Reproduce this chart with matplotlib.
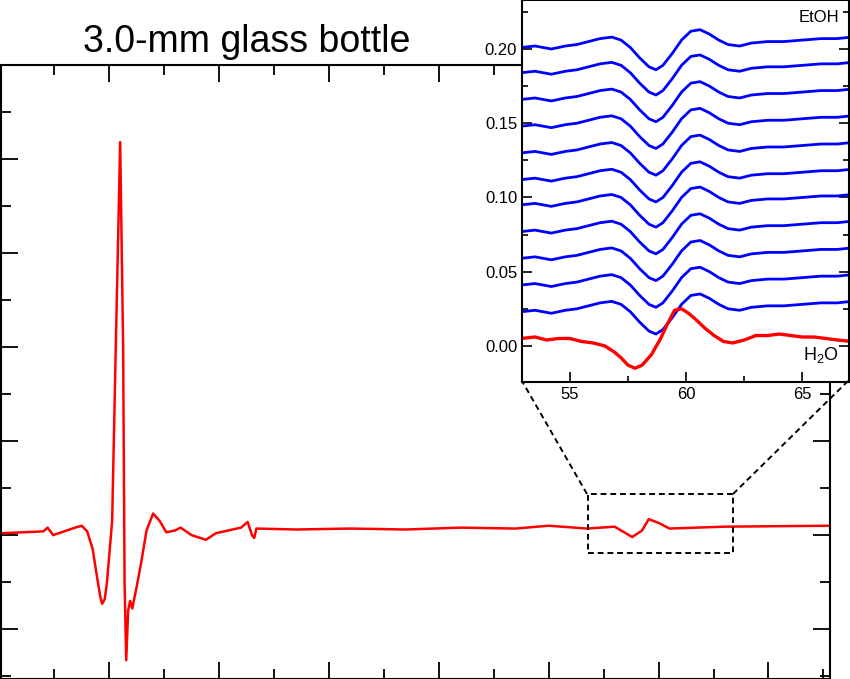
import matplotlib
matplotlib.use("Agg")
import matplotlib.pyplot as plt
from matplotlib.lines import Line2D
from matplotlib.ticker import MultipleLocator, FormatStrFormatter

plt.rcParams['font.family'] = ['Liberation Sans', 'DejaVu Sans']
plt.rcParams['mathtext.fontset'] = 'custom'
plt.rcParams['mathtext.rm'] = 'Liberation Sans'

# Main trace (x in field units, y in arbitrary units)
main_x = [0.18, 4.0, 4.4, 4.9, 6.9, 7.5, 8.0, 8.5, 8.9, 9.2, 9.36, 9.6, 9.8, 10.27, 10.6,
          11.0, 11.27, 11.4, 11.55, 11.73, 11.9, 12.1, 12.5, 12.9, 13.4, 14.0, 14.6, 15.2,
          16.0, 16.5, 17.5, 18.8, 19.7, 22.0, 22.6, 23.0, 23.2, 23.4, 27.0, 32.0, 37.0,
          42.0, 47.0, 50.0, 53.5, 56.0, 57.6, 58.5, 59.1, 60.0, 61.0, 66.0, 75.6]
main_y = [0.02, 0.04, 0.08, 0.0, 0.08, 0.10, 0.04, -0.15, -0.45, -0.66, -0.73, -0.68, -0.50,
          0.15, 2.0, 4.18, 2.0, -0.5, -1.33, -0.80, -0.70, -0.78, -0.55, -0.30, 0.05, 0.23,
          0.15, 0.03, 0.05, 0.08, 0.0, -0.05, 0.02, 0.08, 0.14, 0.0, -0.03, 0.07, 0.06,
          0.07, 0.06, 0.08, 0.07, 0.10, 0.07, 0.09, -0.02, 0.05, 0.17, 0.13, 0.07, 0.09, 0.10]

# Inset: blue profile (relative to trace offset) and trace offsets
blue_x = [52.9, 53.5, 54.2, 54.8, 55.3, 55.8, 56.3, 56.8, 57.2, 57.6, 58.0, 58.4, 58.7, 59.0,
          59.4, 59.8, 60.2, 60.6, 61.0, 61.4, 61.8, 62.3, 62.8, 63.5, 64.2, 65.0, 65.8,
          66.5, 67.1]
blue_dy = [0.0, 0.001, -0.001, 0.001, 0.002, 0.004, 0.006, 0.007, 0.005, 0.000, -0.007,
           -0.013, -0.015, -0.012, -0.004, 0.005, 0.011, 0.012, 0.009, 0.005, 0.002, 0.001,
           0.003, 0.004, 0.004, 0.005, 0.006, 0.006, 0.007]
blue_offsets = [0.023, 0.041, 0.059, 0.077, 0.095, 0.112, 0.130, 0.148, 0.166, 0.184, 0.201]

red_x = [52.9, 53.5, 54, 54.5, 55, 55.5, 56, 56.5, 56.9, 57.2, 57.5, 57.8, 58.1, 58.5, 58.9,
         59.2, 59.5, 59.8, 60.1, 60.4, 60.8, 61.2, 61.6, 62, 62.5, 63, 63.5, 64, 64.5, 65,
         65.5, 66, 66.5, 67.1]
red_y = [0.005, 0.006, 0.004, 0.005, 0.005, 0.003, 0.002, 0.000, -0.004, -0.008, -0.013,
         -0.015, -0.013, -0.006, 0.005, 0.015, 0.024, 0.025, 0.022, 0.018, 0.012, 0.007,
         0.003, 0.002, 0.004, 0.007, 0.007, 0.008, 0.007, 0.006, 0.006, 0.005, 0.004,
         0.003]

fig = plt.figure(figsize=(8.5, 6.79), dpi=100)
W, H = 850, 679

ax = fig.add_axes([0.0015, 0, 830 / W - 0.0015, 614 / H])
ax.plot(main_x, main_y, color='red', lw=1.8)
ax.set_xlim(0.18, 75.6)
ax.set_ylim(-1.53, 5.0)
ax.xaxis.set_major_locator(MultipleLocator(10))
ax.xaxis.set_minor_locator(MultipleLocator(5))
ax.yaxis.set_major_locator(MultipleLocator(1))
ax.yaxis.set_minor_locator(MultipleLocator(0.5))
ax.tick_params(which='both', direction='in', width=1.3, top=True, right=True,
               labelbottom=False, labelleft=False)
ax.tick_params(which='major', length=12)
ax.tick_params(which='minor', length=7)
for s in ax.spines.values():
    s.set_linewidth(1.5)
# dashed box
bx0, bx1, by0, by1 = 53.55, 66.8, -0.19, 0.436
ax.plot([bx0, bx1, bx1, bx0, bx0], [by0, by0, by1, by1, by0], 'k--', lw=1.4, dashes=(3, 2))

fig.text(247 / W, 1 - 42 / H, '3.0-mm glass bottle', ha='center', va='center', fontsize=27)

# connector lines in figure coordinates
for (x0, y0), (x1, y1) in [((587, 494), (522, 381)), ((733, 494), (848, 381))]:
    fig.add_artist(Line2D([x0 / W, x1 / W], [1 - y0 / H, 1 - y1 / H], color='k',
                          ls='--', dashes=(3, 2), lw=1.4))

ins = fig.add_axes([522 / W, 1 - 382 / H, 327 / W, 382 / H])
ins.set_facecolor('white')
for off in blue_offsets:
    ins.plot(blue_x, [off + d for d in blue_dy], color='blue', lw=2)
ins.plot(red_x, red_y, color='red', lw=2.4)
ins.set_xlim(52.94, 67.0)
ins.set_ylim(-0.0243, 0.233)
ins.xaxis.set_major_locator(MultipleLocator(5))
ins.xaxis.set_minor_locator(MultipleLocator(2.5))
ins.yaxis.set_major_locator(MultipleLocator(0.05))
ins.yaxis.set_minor_locator(MultipleLocator(0.025))
ins.tick_params(which='both', direction='in', right=True, top=False, width=1.2, labelsize=12)
ins.tick_params(which='major', length=7)
ins.tick_params(which='minor', length=4)
ins.yaxis.set_major_formatter(FormatStrFormatter('%.2f'))
for s in ins.spines.values():
    s.set_linewidth(1.5)
ins.text(0.97, 0.975, 'EtOH', transform=ins.transAxes, ha='right', va='top', fontsize=12)
ins.text(0.97, 0.07, 'H$_2$O', transform=ins.transAxes, ha='right', va='center', fontsize=13)

fig.savefig('out.png', dpi=100)
